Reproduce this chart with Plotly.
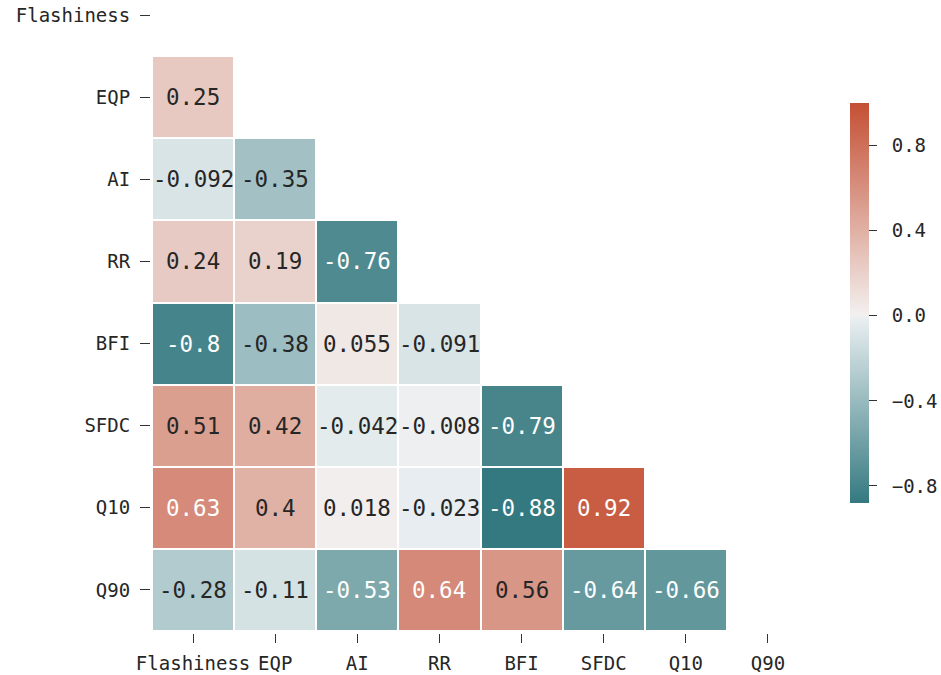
import plotly.graph_objects as go

# Variables of the correlation matrix (rows and columns share the order)
variables = ["Flashiness", "EQP", "AI", "RR", "BFI", "SFDC", "Q10", "Q90"]

# Lower-triangle correlation values, one list per row (columns 0 .. row-1)
row_flashiness = []
row_eqp = [0.25]
row_ai = [-0.092, -0.35]
row_rr = [0.24, 0.19, -0.76]
row_bfi = [-0.8, -0.38, 0.055, -0.091]
row_sfdc = [0.51, 0.42, -0.042, -0.008, -0.79]
row_q10 = [0.63, 0.4, 0.018, -0.023, -0.88, 0.92]
row_q90 = [-0.28, -0.11, -0.53, 0.64, 0.56, -0.64, -0.66]

colorbar_ticks = [-0.8, -0.4, 0.0, 0.4, 0.8]

rows = [row_flashiness, row_eqp, row_ai, row_rr, row_bfi, row_sfdc, row_q10, row_q90]
n = len(variables)

# Full matrix with the upper triangle (and diagonal) masked out
z = [[None] * n for _ in range(n)]
for i, r in enumerate(rows):
    for j, v in enumerate(r):
        z[i][j] = v

values = [v for r in rows for v in r]
zmin, zmax = min(values), 1.0

# Diverging palette centred on zero: teal -> light grey -> rust
pal_stops = [
    (-1.0, (27, 105, 112)),
    (-0.004, (235, 240, 242)),
    (0.0, (242, 242, 242)),
    (0.004, (243, 240, 239)),
    (1.0, (196, 80, 52)),
]


def pal(v):
    v = max(-1.0, min(1.0, v))
    for (a, ca), (b, cb) in zip(pal_stops[:-1], pal_stops[1:]):
        if a <= v <= b:
            t = 0 if b == a else (v - a) / (b - a)
            return tuple(ca[k] + t * (cb[k] - ca[k]) for k in range(3))
    return pal_stops[-1][1]


def rgb(c):
    return "rgb(%d,%d,%d)" % tuple(round(x) for x in c)


def luminance(c):
    lin = []
    for x in c:
        x = x / 255
        lin.append(x / 12.92 if x <= 0.03928 else ((x + 0.055) / 1.055) ** 2.4)
    return 0.2126 * lin[0] + 0.7152 * lin[1] + 0.0722 * lin[2]


steps = 100
colorscale = [[k / steps, rgb(pal(zmin + (zmax - zmin) * k / steps))] for k in range(steps + 1)]

font = "DejaVu Sans Mono"
dark = "#262626"

# Colour bar labels with a small lead-in space, matplotlib-style minus sign
cbar_text = ["\u2002" + format(t, ".1f").replace("-", "\u2212") for t in colorbar_ticks]

fig = go.Figure(
    go.Heatmap(
        z=z,
        x=list(range(n)),
        y=list(range(n)),
        zmin=zmin,
        zmax=zmax,
        colorscale=colorscale,
        xgap=2,
        ygap=2,
        hoverongaps=False,
        colorbar=dict(
            thickness=19,
            lenmode="pixels",
            len=400,
            x=850 / 941,
            xanchor="left",
            y=(655 - 103) / 655,
            yanchor="top",
            xpad=0,
            ypad=0,
            outlinewidth=0,
            ticks="outside",
            ticklen=8,
            tickwidth=1.3,
            tickcolor="#333333",
            tickmode="array",
            tickvals=colorbar_ticks,
            ticktext=cbar_text,
            tickfont=dict(family=font, size=19, color=dark),
        ),
    )
)

# Cell annotations, light text on dark cells
for i, r in enumerate(rows):
    for j, v in enumerate(r):
        c = pal(v)
        fig.add_annotation(
            x=j,
            y=i,
            xref="x",
            yref="y",
            text=format(v, ".2g"),
            showarrow=False,
            font=dict(family=font, size=22.5, color="white" if luminance(c) < 0.37 else dark),
        )

cell = 657 / 8
fig.update_layout(
    width=941,
    height=675,
    margin=dict(l=0, r=0, t=0, b=20, autoexpand=False),
    plot_bgcolor="white",
    paper_bgcolor="white",
    xaxis=dict(
        domain=[152 / 941, 809 / 941],
        range=[-0.5, n - 0.5],
        tickvals=list(range(n)),
        ticktext=variables,
        ticks="outside",
        ticklen=9,
        tickwidth=1.3,
        tickcolor="#333333",
        tickfont=dict(family=font, size=19, color=dark),
        ticklabelstandoff=4,
        showgrid=False,
        zeroline=False,
        showline=False,
        anchor="free",
        position=(655 - 633) / 655,
        automargin=False,
    ),
    yaxis=dict(
        domain=[(655 - 631) / 655, 1],
        range=[n - 0.5, n - 0.5 - 631 / cell],
        tickvals=list(range(n)),
        ticktext=variables,
        ticks="outside",
        ticklen=10,
        tickwidth=1.3,
        tickcolor="#333333",
        tickfont=dict(family=font, size=19, color=dark),
        ticklabelstandoff=6,
        showgrid=False,
        zeroline=False,
        showline=False,
        anchor="free",
        position=150 / 941,
        automargin=False,
    ),
)

fig.write_html("out.html")
